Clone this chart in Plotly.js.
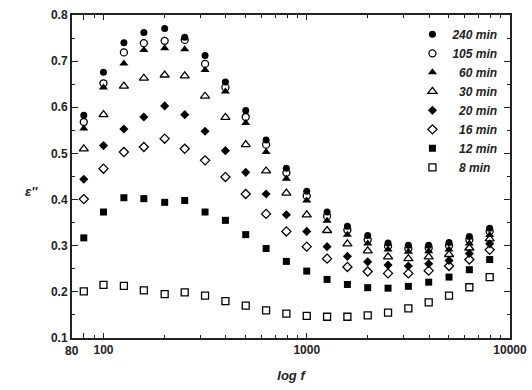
<!DOCTYPE html>
<html>
<head>
<meta charset="utf-8">
<script src="https://cdn.plot.ly/plotly-3.0.1.min.js"></script>
<style>html,body{margin:0;padding:0;background:#fff;}#chart{width:532px;height:390px;}</style>
</head>
<body>
<div id="chart"></div>
<script>
const freq = [80,100,126,158,200,251,316,398,501,631,794,1000,1259,1585,1995,2512,3162,3981,5012,6310,7943];
const s240 = [0.583,0.676,0.740,0.762,0.771,0.752,0.712,0.655,0.593,0.529,0.468,0.418,0.373,0.342,0.322,0.306,0.301,0.301,0.307,0.320,0.338];
const s105 = [0.568,0.652,0.719,0.739,0.744,0.746,0.694,0.643,0.579,0.519,0.458,0.408,0.364,0.334,0.313,0.299,0.294,0.295,0.300,0.313,0.331];
const s60  = [0.554,0.643,0.695,0.724,0.728,0.726,0.681,0.634,0.566,0.503,0.445,0.398,0.354,0.324,0.305,0.292,0.287,0.288,0.292,0.305,0.323];
const s30  = [0.510,0.584,0.646,0.663,0.670,0.668,0.624,0.578,0.519,0.462,0.414,0.367,0.333,0.304,0.289,0.276,0.272,0.276,0.281,0.295,0.315];
const s20  = [0.444,0.517,0.553,0.579,0.603,0.584,0.548,0.506,0.459,0.412,0.367,0.331,0.298,0.277,0.265,0.258,0.256,0.261,0.268,0.283,0.304];
const s16  = [0.401,0.467,0.503,0.514,0.532,0.510,0.485,0.449,0.412,0.369,0.331,0.298,0.272,0.254,0.244,0.240,0.240,0.246,0.256,0.270,0.291];
const s12  = [0.317,0.373,0.404,0.402,0.394,0.398,0.373,0.355,0.324,0.294,0.266,0.245,0.227,0.216,0.209,0.208,0.212,0.221,0.232,0.248,0.270];
const s8   = [0.201,0.215,0.213,0.203,0.195,0.199,0.192,0.180,0.170,0.160,0.153,0.148,0.146,0.146,0.149,0.155,0.164,0.177,0.192,0.210,0.232];

const seriesNames = ['240 min','105 min','\u200760 min','\u200730 min','\u200720 min','\u200716 min','\u200712 min','\u20078 min'];
const seriesValues = [s240,s105,s60,s30,s20,s16,s12,s8];
const symbols = ['circle','circle-open','triangle-up','triangle-up-open','diamond','diamond-open','square','square-open'];

const xTickVals = [80,100,1000,10000];
const xTickText = ['','100','1000','10000'];
const firstTickLabel = '80';
const xMinorVals = [90,200,300,400,500,600,700,800,900,2000,3000,4000,5000,6000,7000,8000,9000];

const fontFam = '"Liberation Sans", Arial, "DejaVu Sans", sans-serif';

const traces = seriesValues.map((v,i)=>({
  x: freq, y: v, type:'scatter', mode:'markers', name: seriesNames[i],
  marker:{symbol:symbols[i], size: symbols[i].startsWith('triangle')?8:7, color:'#000',
          line:{color:'#000', width: symbols[i].endsWith('open')?1.3:0}}
}));

const layout = {
  width:532, height:390,
  margin:{l:72, r:22, t:15, b:52},
  paper_bgcolor:'#fff', plot_bgcolor:'#fff',
  font:{family:fontFam, color:'#222'},
  showlegend:true,
  legend:{x:0.985, xanchor:'right', y:0.985, yanchor:'top', bgcolor:'rgba(0,0,0,0)',
          font:{family:fontFam, size:12, weight:'bold', style:'italic', color:'#222'}},
  xaxis:{type:'log', range:[Math.log10(70), 4], tickvals:xTickVals, ticktext:xTickText, tickangle:0,
         ticks:'inside', ticklen:5, tickwidth:1.2, tickcolor:'#222',
         minor:{tickvals:xMinorVals, ticks:'inside', ticklen:3, tickwidth:1, tickcolor:'#222'},
         showline:true, linecolor:'#222', linewidth:2, mirror:'ticks', showgrid:false, zeroline:false,
         tickfont:{family:fontFam, size:12, weight:'bold', color:'#222'},
         title:{text:'log f', standoff:14, font:{family:fontFam, size:13, weight:'bold', style:'italic', color:'#222'}}},
  yaxis:{range:[0.1,0.8], dtick:0.1, tick0:0.1, tickformat:'.1f',
         ticks:'inside', ticklen:6, tickwidth:1.2, tickcolor:'#222',
         minor:{dtick:0.05, ticks:'inside', ticklen:3, tickwidth:1, tickcolor:'#222'},
         showline:true, linecolor:'#222', linewidth:2, mirror:'ticks', showgrid:false, zeroline:false,
         tickfont:{family:fontFam, size:12, weight:'bold', color:'#222'}},
  annotations:[
    {xref:'paper', yref:'paper', x:-0.113, y:0.455, text:"<b><i>ε''</i></b>", showarrow:false,
     font:{family:fontFam, size:13, color:'#222'}},
    {xref:'x', yref:'paper', x:Math.log10(xTickVals[0]), y:0, yanchor:'top', xanchor:'center',
     xshift:-12, yshift:-4, text:'<b>'+firstTickLabel+'</b>', showarrow:false,
     font:{family:fontFam, size:12, color:'#222'}}
  ]
};

Plotly.newPlot('chart', traces, layout, {staticPlot:true, displayModeBar:false});
</script>
</body>
</html>
